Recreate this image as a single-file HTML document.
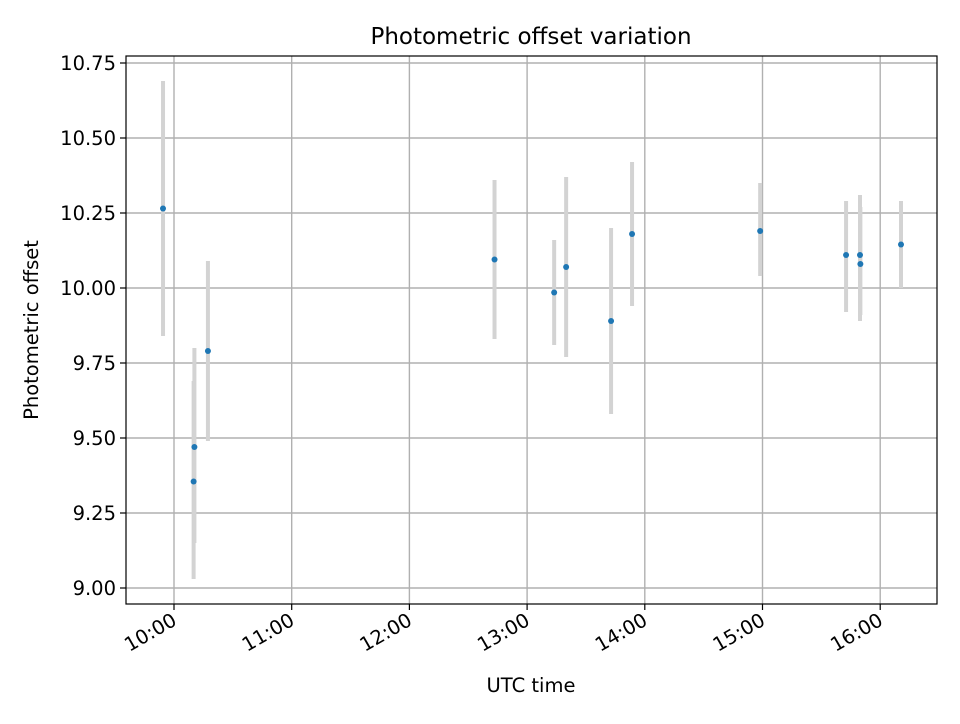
<!DOCTYPE html>
<html><head><meta charset="utf-8"><style>
body{margin:0;background:#fff;font-family:"DejaVu Sans","Liberation Sans",sans-serif;}
</style></head><body>
<svg id="chart" width="960" height="720" xmlns="http://www.w3.org/2000/svg" font-family="DejaVu Sans, Liberation Sans, sans-serif">
<rect width="960" height="720" fill="#fff"/>
<g id="grid"></g><g id="marks"></g><g id="axes"></g>
<text x="531" y="44" text-anchor="middle" font-size="23">Photometric offset variation</text>
<text x="531" y="692" text-anchor="middle" font-size="19.5">UTC time</text>
<text x="38" y="330" text-anchor="middle" font-size="19.5" transform="rotate(-90 38 330)">Photometric offset</text>
</svg>
<script>
// minutes after 10:00 UTC
const times=[-5.6,10.0,10.4,17.3,163.4,193.8,199.9,222.8,233.5,298.8,342.6,349.7,349.9,370.6];
const values=[10.265,9.355,9.47,9.79,10.095,9.985,10.07,9.89,10.18,10.19,10.11,10.11,10.08,10.145];
const errLow=[9.84,9.03,9.15,9.49,9.83,9.81,9.77,9.58,9.94,10.04,9.92,9.89,9.91,10.00];
const errHigh=[10.69,9.69,9.80,10.09,10.36,10.16,10.37,10.20,10.42,10.35,10.29,10.31,10.27,10.29];
const xTicks=[0,60,120,180,240,300,360];
const xTickLabels=["10:00","11:00","12:00","13:00","14:00","15:00","16:00"];
const yTicks=[9.0,9.25,9.5,9.75,10.0,10.25,10.5,10.75];
const yTickLabels=["9.00","9.25","9.50","9.75","10.00","10.25","10.50","10.75"];
const L=126,R=937,T=56,B=604;
const X=m=>174+m*(117.7/60);
const Y=v=>588-(v-9)*300;
const NS="http://www.w3.org/2000/svg";
function mk(p,tag,a){const e=document.createElementNS(NS,tag);for(const k in a)e.setAttribute(k,a[k]);p.appendChild(e);return e;}
const grid=document.getElementById('grid'),marks=document.getElementById('marks'),axes=document.getElementById('axes');
xTicks.forEach((t,i)=>{const x=X(t);
 const g=mk(grid,'line',{x1:x,x2:x,y1:T,y2:B,stroke:'#b0b0b0','stroke-width':1.4});
 
 mk(axes,'line',{x1:x,x2:x,y1:B,y2:B+6,stroke:'#000','stroke-width':1.2});
 const tx=mk(axes,'text',{x:x+4,y:B+20,'text-anchor':'end','font-size':19.5,transform:`rotate(-30 ${x+4} ${B+20})`});
 tx.textContent=xTickLabels[i];
 });
yTicks.forEach((t,i)=>{const y=Y(t);
 const g=mk(grid,'line',{x1:L,x2:R,y1:y,y2:y,stroke:'#b0b0b0','stroke-width':1.4});
 
 mk(axes,'line',{x1:L-6,x2:L,y1:y,y2:y,stroke:'#000','stroke-width':1.2});
 const tx=mk(axes,'text',{x:L-10,y:y+7,'text-anchor':'end','font-size':19.5});
 tx.textContent=yTickLabels[i];
 });
const frame=mk(axes,'rect',{x:L,y:T,width:R-L,height:B-T,fill:'none',stroke:'#000','stroke-width':1.2});

times.forEach((t,i)=>{const x=X(t);
 const e=mk(marks,'line',{x1:x,x2:x,y1:Y(errLow[i]),y2:Y(errHigh[i]),stroke:'#d3d3d3','stroke-width':4});
 });
times.forEach((t,i)=>{
 const c=mk(marks,'circle',{cx:X(t),cy:Y(values[i]),r:3,fill:'#1f77b4'});
 });
</script>
</body></html>
